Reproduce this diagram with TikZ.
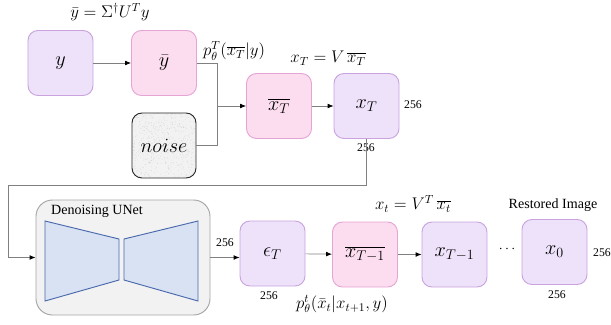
\documentclass[tikz,border=0pt]{standalone}
\usepackage{fontspec}
\setmainfont{Liberation Serif}
\usetikzlibrary{arrows.meta}

\definecolor{boxpurple}{HTML}{EEE2FA}
\definecolor{edgepurple}{HTML}{C9A2DE}
\definecolor{boxpink}{HTML}{FCDCEF}
\definecolor{edgepink}{HTML}{E6A4D4}
\definecolor{unetfill}{HTML}{F2F2F2}
\definecolor{trapfill}{HTML}{D8E2F3}
\definecolor{trapedge}{HTML}{4A69AD}

\tikzset{
  latent/.style={draw=edgepurple, fill=boxpurple, line width=0.8pt, rounded corners=8.5pt,
    minimum width=1.95cm, minimum height=1.95cm, font=\LARGE},
  proj/.style={latent, draw=edgepink, fill=boxpink},
  flow/.style={draw=gray, line width=0.6pt},
  arr/.style={flow, -{Latex[length=5pt,width=4pt,black]}},
  dimlabel/.style={font=\normalsize, inner sep=1pt},
  eqlabel/.style={font=\Large, inner sep=1pt},
}

\begin{document}
\begin{tikzpicture}[x=0.03cm, y=-0.03cm]
\useasboundingbox (0,0) rectangle (611,324);

% Top row
\node[latent] (y) at (60.5,63) {$y$};
\node[proj] (ybar) at (164,63) {$\bar{y}$};
\node[eqlabel] (ybareq) at (110,12) {$\bar{y} = \Sigma^{\dagger} U^{T} y$};

% Noise box with speckle
\begin{scope}
  \clip[rounded corners=8.5pt] (132,113) rectangle (196,178);
  \fill[gray!10] (132,113) rectangle (196,178);
  \pgfmathsetseed{11}
  \foreach \i in {1,...,600} {
    \pgfmathsetmacro{\px}{132+64*rnd}
    \pgfmathsetmacro{\py}{113+65*rnd}
    \fill[gray!35] (\px,\py) circle (0.3pt);
  }
\end{scope}
\node[draw=black!85, line width=0.8pt, rounded corners=8.5pt, minimum width=1.92cm,
  minimum height=1.95cm, font=\LARGE] (noise) at (164,145.5) {$noise$};

\node[proj] (xbarT) at (279,106) {$\overline{x_T}$};
\node[latent] (xT) at (366.5,106) {$x_T$};
\node[eqlabel] (prior) at (234,51) {$p_{\theta}^{T}(\overline{x_T}|y)$};
\node[eqlabel] (xTeq) at (328,58) {$x_T = V\,\overline{x_T}$};
\node[dimlabel] (xTw) at (413,105) {256};
\node[dimlabel] (xTh) at (366,148) {256};

% Joining ybar and noise
\coordinate (join) at (217,106);
\draw[flow] (ybar.east) -| (join);
\draw[flow] (noise.east) -| (join);
\draw[arr] (join) -- (xbarT.west);
\draw[arr] (y) -- (ybar);
\draw[arr] (xbarT) -- (xT);

% Denoising UNet
\node[draw=gray!70, fill=unetfill, line width=0.8pt, rounded corners=14pt,
  minimum width=5.22cm, minimum height=3.45cm] (unet) at (123,257.5) {};
\node[font=\large] (unettitle) at (97,211) {Denoising UNet};
\draw[trapedge, fill=trapfill, line width=0.8pt] (45,221) -- (119,239) -- (119,280) -- (45,301) -- cycle;
\draw[trapedge, fill=trapfill, line width=0.8pt] (124,239) -- (198,221) -- (198,301) -- (124,280) -- cycle;

\coordinate (turn) at (8,185);
\draw[arr] (xT.south) |- (turn) |- (unet.west);

% Bottom row
\node[latent] (epsT) at (272.5,253.5) {$\epsilon_T$};
\node[proj] (xbarT1) at (365,254.5) {$\overline{x_{T-1}}$};
\node[latent] (xT1) at (454.5,254.5) {$x_{T-1}$};
\node[font=\large] (dots) at (507,249) {$\cdots$};
\node[latent] (x0) at (554.5,252) {$x_0$};

\draw[arr] (unet.east) -- (unet.east -| epsT.west);
\draw[arr] (epsT) -- (xbarT1);
\draw[arr] (xbarT1) -- (xT1);

\node[dimlabel] (unetw) at (225,243) {256};
\node[dimlabel] (epsh) at (269,296) {256};
\node[eqlabel] (post) at (342,304) {$p_{\theta}^{t}(\bar{x}_t|x_{t+1},y)$};
\node[eqlabel] (xteq) at (413,204) {$x_t = V^{T}\,\overline{x_t}$};
\node[font=\large] (restored) at (553,205) {Restored Image};
\node[dimlabel] (x0w) at (602,253) {256};
\node[dimlabel] (x0h) at (557,295) {256};
\end{tikzpicture}
\end{document}
